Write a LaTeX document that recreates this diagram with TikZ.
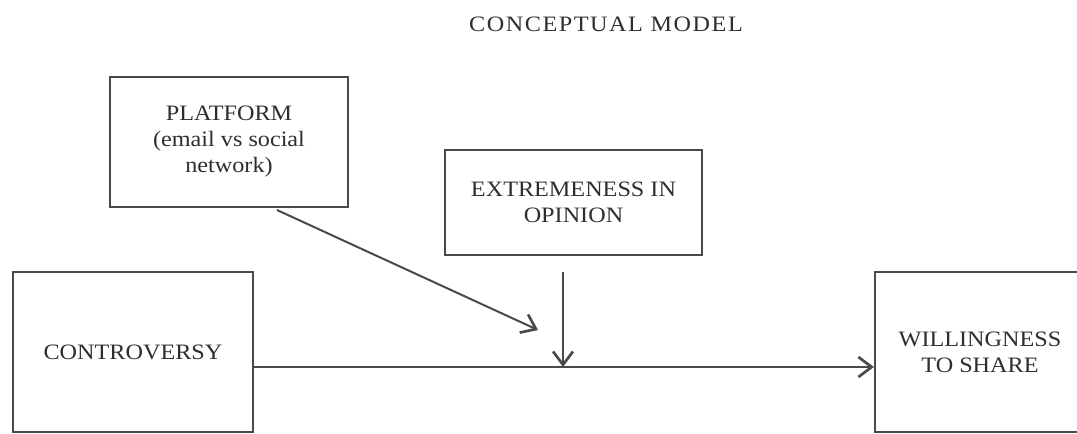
\documentclass[tikz,border=0pt]{standalone}
\usepackage{fontspec}
\setmainfont{Liberation Serif}[FakeStretch=1.1]
\usetikzlibrary{arrows.meta}
\definecolor{linec}{HTML}{4A4A4A}
\definecolor{textc}{HTML}{2E2E2E}
\tikzset{
  box/.style={draw=linec, line width=1.6pt, rectangle, inner sep=0pt, align=center,
    text=textc, font=\fontsize{16.5}{19.5}\selectfont},
  arr/.style={draw=linec, line width=1.5pt, -{Straight Barb[length=10pt,width=15pt,line width=2pt]}, shorten >=0pt},
}
\begin{document}
\begin{tikzpicture}[x=0.75pt,y=-0.75pt]
\useasboundingbox (0,0) rectangle (1077,433);
\clip (0,0) rectangle (1077,433);
\node[text=textc, font=\addfontfeatures{LetterSpace=7}\fontsize{16.5}{19}\selectfont] (title) at (606,24) {CONCEPTUAL MODEL};
\node[box, minimum width=178.5pt, minimum height=97.5pt] (plat) at (229,142) {PLATFORM\\(email vs social\\network)};
\node[box, minimum width=192.75pt, minimum height=78.75pt] (ext) at (573.5,202.5) {EXTREMENESS IN\\OPINION};
\node[box, minimum width=180pt, minimum height=120pt] (ctrl) at (133,352) {CONTROVERSY};
\node[box, minimum width=157.5pt, minimum height=120pt] (will) at (980,352) {WILLINGNESS\\TO SHARE};
\coordinate (j) at (563,367);
\coordinate (vs) at (563,272);
\coordinate (ds) at (277,210);
\coordinate (de) at (538,330);
\draw[arr] (ctrl.east |- j) -- (will.west |- j);
\draw[arr] (vs) -- (j);
\draw[arr] (ds) -- (de);
\end{tikzpicture}
\end{document}
